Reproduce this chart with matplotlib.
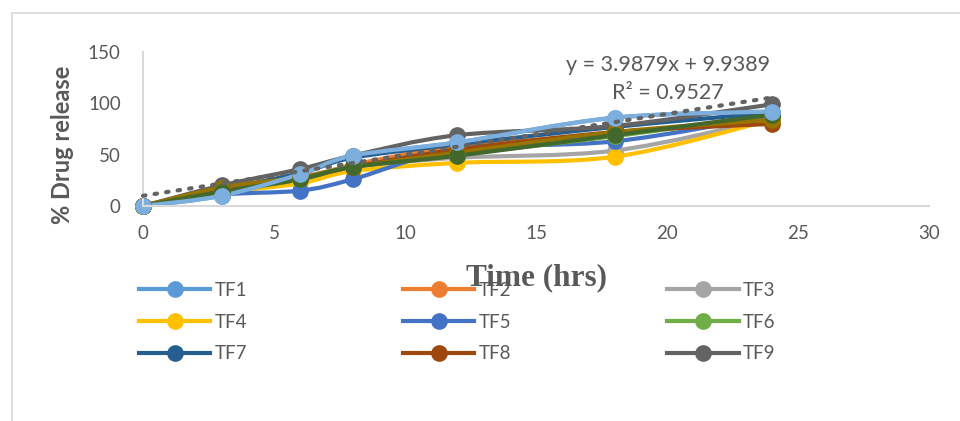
import numpy as np
import matplotlib
matplotlib.use("Agg")
import matplotlib.pyplot as plt
from matplotlib.path import Path
from matplotlib.patches import PathPatch
from matplotlib.lines import Line2D

plt.rcParams['font.family'] = ['Lato', 'DejaVu Sans']

# data
time = [0, 3, 6, 8, 12, 18, 24]
series = {
    'TF1': [0, 10, 31, 49, 62, 86, 92],
    'TF2': [0, 15, 26, 40, 58, 70, 86],
    'TF3': [0, 14, 28, 38, 47, 54, 85],
    'TF4': [0, 13, 22, 34, 42, 48, 84],
    'TF5': [0, 11, 15, 26, 55, 63, 88],
    'TF6': [0, 13, 26, 38, 50, 68, 89],
    'TF7': [0, 16, 32, 47, 60, 77, 91],
    'TF8': [0, 17, 27, 38, 55, 72, 80],
    'TF9': [0, 20, 36, 49, 69, 78, 99],
}
colors = {
    'TF1': '#5B9BD5', 'TF2': '#ED7D31', 'TF3': '#A5A5A5',
    'TF4': '#FFC000', 'TF5': '#4472C4', 'TF6': '#70AD47',
    'TF7': '#255E91', 'TF8': '#9E480E', 'TF9': '#636363',
}
# extra series in the chart whose legend entries were removed
extra_values = [
    [0, 18, 28, 38, 52, 72, 84],
    [0, 14, 26, 38, 49, 69, 89],
    [0, 10, 31, 49, 62, 86, 92],
]
extra_colors = ['#997300', '#43682B', '#7CAFDD']

slope, intercept = 3.9879, 9.9389
trend_x = [0, 24]

TEXT = '#595959'
AXIS = '#D9D9D9'


def smooth_path(x, y):
    # Excel style smoothed line as cubic bezier segments
    pts = np.column_stack([x, y]).astype(float)
    n = len(pts)
    verts = [pts[0]]
    codes = [Path.MOVETO]
    for i in range(n - 1):
        p0 = pts[i - 1] if i > 0 else pts[i]
        p1 = pts[i]
        p2 = pts[i + 1]
        p3 = pts[i + 2] if i + 2 < n else pts[i + 1]
        c1 = p1 + (p2 - p0) / 6
        c2 = p2 - (p3 - p1) / 6
        verts += [c1, c2, p2]
        codes += [Path.CURVE4] * 3
    return Path(verts, codes)


def draw(ax, y, color, label=None):
    ax.add_patch(PathPatch(smooth_path(time, y), fill=False, edgecolor=color,
                           lw=3, capstyle='round', joinstyle='round', clip_on=False))
    ax.plot(time, y, ls='none', marker='o', ms=11, color=color, clip_on=False)
    return Line2D([], [], color=color, lw=3, marker='o', ms=11, label=label)


fig = plt.figure(figsize=(9.6, 4.21), dpi=100)
ax = fig.add_axes([143 / 960, 1 - 206 / 421, (929 - 143) / 960, (206 - 52) / 421])

handles = {}
for name, vals in series.items():
    handles[name] = draw(ax, vals, colors[name], name)
for vals, c in zip(extra_values, extra_colors):
    draw(ax, vals, c)

tx = np.array(trend_x, dtype=float)
ax.plot(tx, slope * tx + intercept, ls=(0, (0.6, 2.2)), lw=3,
        color='#636363', dash_capstyle='round', zorder=5, clip_on=False)

ax.set_xlim(0, 30)
ax.set_ylim(0, 150)
ax.set_xticks(range(0, 31, 5))
ax.set_yticks([0, 50, 100, 150])
ax.tick_params(length=0, labelsize=13.5, labelcolor=TEXT)
ax.tick_params(axis='y', pad=16)
ax.tick_params(axis='x', pad=14)
for s in ['top', 'right']:
    ax.spines[s].set_visible(False)
for s in ['left', 'bottom']:
    ax.spines[s].set_color(AXIS)
    ax.spines[s].set_linewidth(1.5)

fig.text(62 / 960, 1 - 145 / 421, '% Drug release', rotation=90, fontsize=17,
         fontweight='bold', color=TEXT, ha='center', va='center')

fig.text(668 / 960, 1 - 65 / 421, f'y = {slope}x + {intercept}', fontsize=15.5,
         color=TEXT, ha='center', va='center')
fig.text(668 / 960, 1 - 93 / 421, 'R² = 0.9527', fontsize=15.5,
         color=TEXT, ha='center', va='center')

# legend row-major order
order = ['TF1', 'TF4', 'TF7', 'TF2', 'TF5', 'TF8', 'TF3', 'TF6', 'TF9']
leg = fig.legend([handles[k] for k in order], order, ncol=3, frameon=False,
                 loc='upper left', bbox_to_anchor=(122 / 960, 1 - 265 / 421),
                 fontsize=13.5, handlelength=3.8, handletextpad=0.25,
                 columnspacing=8.3, labelspacing=0.78, labelcolor=TEXT)

fig.text(537 / 960, 1 - 278 / 421, 'Time (hrs)', fontsize=22.5, fontweight='bold',
         family='Liberation Serif', color=TEXT, ha='center', va='center', zorder=10)

# outer chart frame (left and top edges visible)
fig.add_artist(Line2D([12 / 960, 12 / 960], [0, 1 - 13 / 421], color=AXIS, lw=1.2))
fig.add_artist(Line2D([12 / 960, 1], [1 - 13 / 421, 1 - 13 / 421], color=AXIS, lw=1.2))

fig.savefig('out.png', dpi=100, facecolor='white')
